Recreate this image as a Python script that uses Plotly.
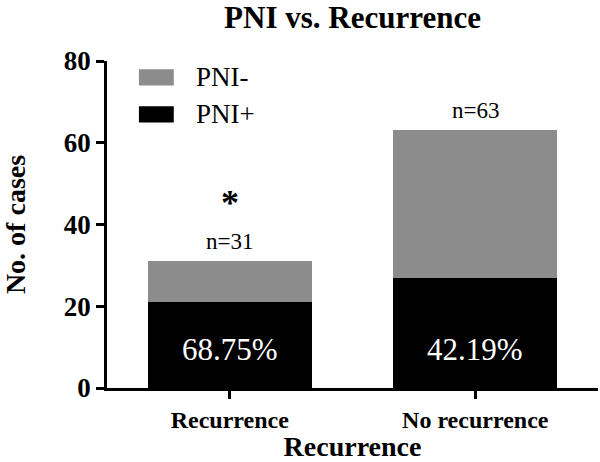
import plotly.graph_objects as go

categories = ["Recurrence", "No recurrence"]
pni_pos = [21, 27]
pni_neg = [10, 36]
totals = [31, 63]
pct_labels = ["68.75%", "42.19%"]
n_labels = ["n=31", "n=63"]
sig_labels = ["*", ""]
series_names = ["PNI-", "PNI+"]
series_colors = ["#8c8c8c", "#000000"]

FONT = "Liberation Serif, Times New Roman, DejaVu Serif, serif"

fig = go.Figure()
fig.add_trace(go.Bar(x=categories, y=pni_pos, name="PNI+", marker_color="#000000",
                     marker_line_width=0, width=0.67, showlegend=False))
fig.add_trace(go.Bar(x=categories, y=pni_neg, name="PNI-", marker_color="#8c8c8c",
                     marker_line_width=0, width=0.67, showlegend=False))

annotations = []
for c, t, p, n, s in zip(categories, totals, pct_labels, n_labels, sig_labels):
    annotations.append(dict(x=c, y=9.5, text=p, showarrow=False, xref="x", yref="y",
                            font=dict(family=FONT, size=31, color="white", weight="normal")))
    annotations.append(dict(x=c, y=t, text=n, showarrow=False, xref="x", yref="y",
                            yshift=20, font=dict(family=FONT, size=23, color="black", weight="normal")))
    if s:
        annotations.append(dict(x=c, y=t, text=s, showarrow=False, xref="x", yref="y",
                                yshift=58, font=dict(family=FONT, size=36, color="black", weight="bold")))

# custom legend
shapes = []
leg_y = [0.950, 0.837]
for name, col, yy in zip(series_names, series_colors, leg_y):
    shapes.append(dict(type="rect", xref="paper", yref="paper",
                       x0=0.065, x1=0.136, y0=yy - 0.025, y1=yy + 0.025,
                       fillcolor=col, line_width=0))
    annotations.append(dict(x=0.177, y=yy, xref="paper", yref="paper", text=name,
                            showarrow=False, xanchor="left", yanchor="middle",
                            font=dict(family=FONT, size=27, color="black", weight="normal")))

fig.update_layout(
    barmode="stack",
    width=600, height=462,
    margin=dict(l=107, r=2, t=61, b=74),
    plot_bgcolor="white", paper_bgcolor="white",
    font=dict(family=FONT, color="black"),
    title=dict(text="<b>PNI vs. Recurrence</b>", x=0.5, xref="paper", xanchor="center",
               y=0.962, yref="container", yanchor="middle",
               font=dict(family=FONT, size=31, color="black")),
    annotations=annotations,
    shapes=shapes,
    xaxis=dict(range=[-0.5, 1.5], showline=True, linecolor="black", linewidth=2.5,
               ticks="outside", ticklen=8, tickwidth=2.5, tickcolor="black",
               tickfont=dict(family=FONT, size=24, color="black", weight="bold"),
               title=dict(text="<b>Recurrence</b>", standoff=6,
                          font=dict(family=FONT, size=28, color="black")),
               showgrid=False, zeroline=False),
    yaxis=dict(range=[0, 80], tickvals=[0, 20, 40, 60, 80], showline=True,
               linecolor="black", linewidth=2.5, ticks="outside", ticklen=8,
               tickwidth=2.5, tickcolor="black",
               tickfont=dict(family=FONT, size=27, color="black", weight="bold"),
               title=dict(text="<b>No. of cases</b>", standoff=43,
                          font=dict(family=FONT, size=28, color="black")),
               showgrid=False, zeroline=False),
)

fig.write_html("out.html", config={"displayModeBar": False},
               post_script="document.body.style.margin='0';")
